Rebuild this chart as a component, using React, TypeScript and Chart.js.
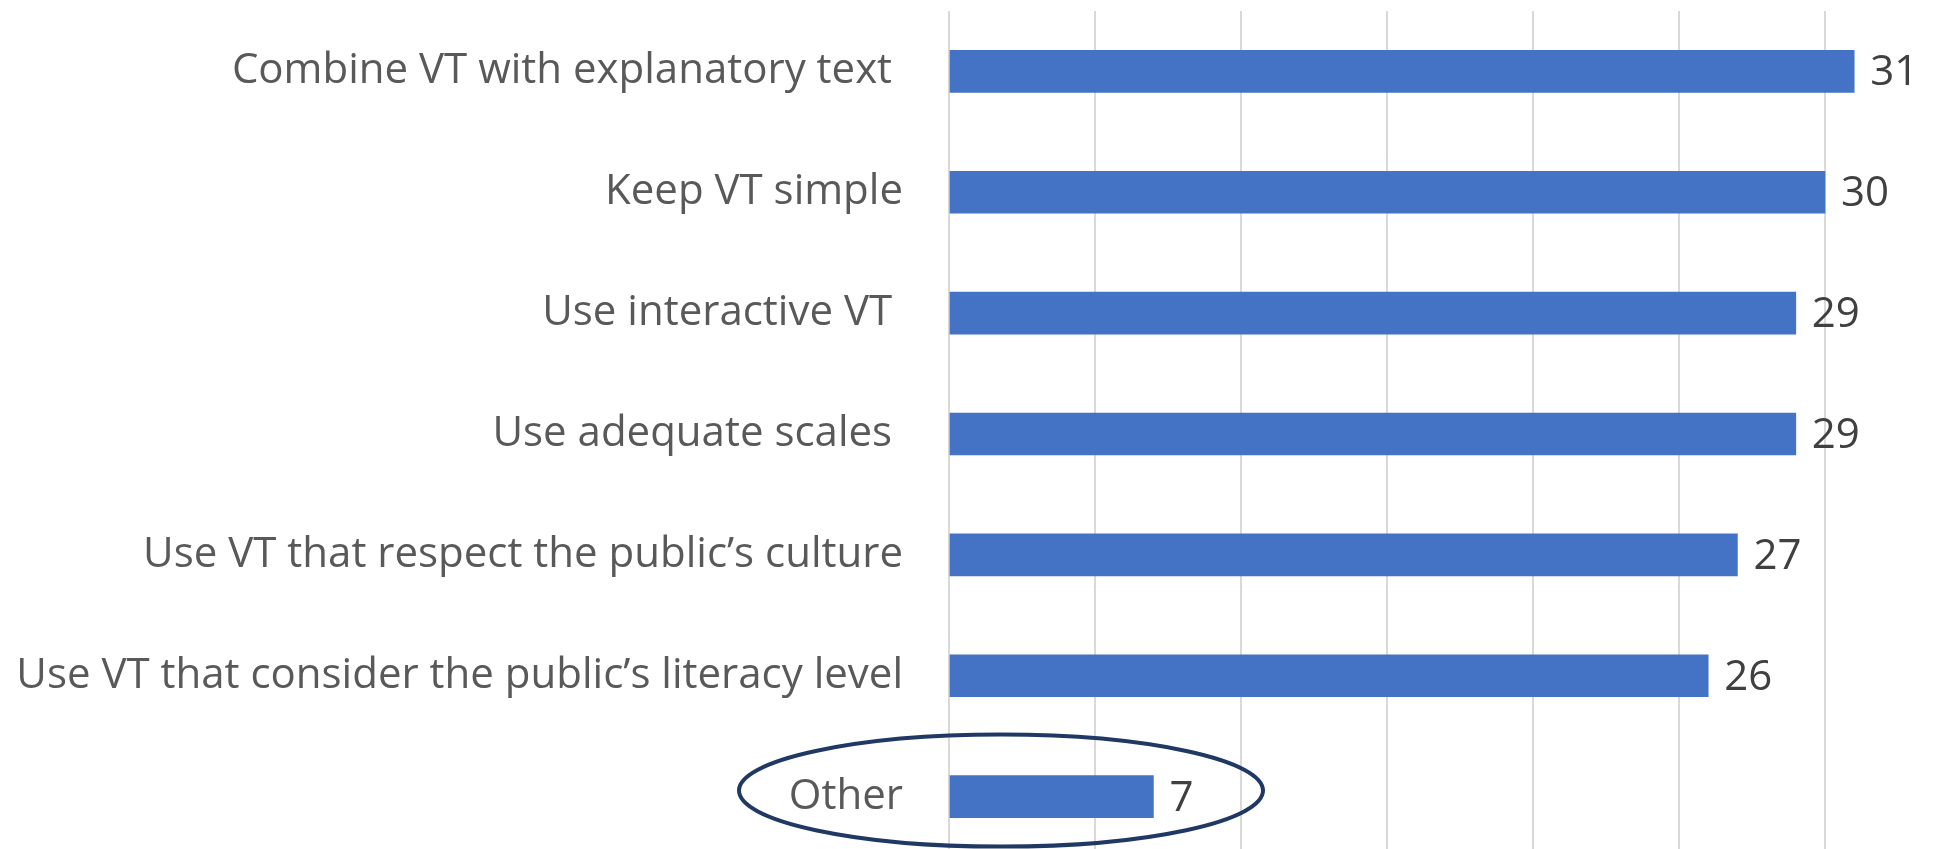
import React, { useEffect, useRef } from "react";
import { Chart, registerables } from "chart.js";

Chart.register(...registerables);

const categories: string[] = [
  "Combine VT with explanatory text ",
  "Keep VT simple",
  "Use interactive VT ",
  "Use adequate scales ",
  "Use VT that respect the public\u2019s culture",
  "Use VT that consider the public\u2019s literacy level",
  "Other",
];
const values: number[] = [31, 30, 29, 29, 27, 26, 7];
const highlightedCategory = "Other";
const axisMax = 35;
const axisStep = 5;

const FONT = "'Open Sans', 'Noto Sans', sans-serif";

const valueLabelPlugin = {
  id: "valueLabels",
  afterDatasetsDraw(chart: any) {
    const { ctx } = chart;
    const meta = chart.getDatasetMeta(0);
    ctx.save();
    ctx.font = `42px ${FONT}`;
    ctx.fillStyle = "#404040";
    ctx.textAlign = "left";
    ctx.textBaseline = "middle";
    meta.data.forEach((bar: any, i: number) => {
      ctx.fillText(String(values[i]), bar.x + 16, bar.y + 2);
    });
    ctx.restore();
  },
};

const ellipsePlugin = {
  id: "highlightEllipse",
  afterDraw(chart: any) {
    const { ctx } = chart;
    const idx = categories.indexOf(highlightedCategory);
    if (idx < 0) return;
    const y = chart.scales.y.getPixelForValue(idx) - 6;
    const x = chart.scales.x.getPixelForValue(0) + 52;
    ctx.save();
    ctx.strokeStyle = "#203864";
    ctx.lineWidth = 4;
    ctx.beginPath();
    ctx.ellipse(x, y, 262, 56, 0, 0, Math.PI * 2);
    ctx.stroke();
    ctx.restore();
  },
};

export default function App() {
  const ref = useRef<HTMLCanvasElement | null>(null);

  useEffect(() => {
    document.body.style.margin = "0";
    document.body.style.overflow = "hidden";
    const canvas = ref.current;
    if (!canvas) return;
    const chart = new Chart(canvas, {
      type: "bar",
      data: {
        labels: categories,
        datasets: [
          {
            data: values,
            backgroundColor: "#4472c4",
            borderWidth: 0,
            barThickness: 42,
          },
        ],
      },
      options: {
        indexAxis: "y",
        responsive: false,
        animation: false,
        devicePixelRatio: 1,
        layout: { padding: { top: 11, bottom: 13, right: 4, left: 0 } },
        plugins: {
          legend: { display: false },
          tooltip: { enabled: false },
          title: { display: false },
        },
        scales: {
          x: {
            min: 0,
            max: axisMax,
            ticks: { display: false, stepSize: axisStep },
            grid: { color: "#d9d9d9", lineWidth: 2, drawTicks: false },
            border: { display: false },
            afterFit(scale: any) {
              scale.height = 0;
              scale.paddingLeft = 0;
              scale.paddingRight = 0;
            },
          },
          y: {
            grid: { display: false, drawTicks: false },
            border: { display: false },
            ticks: {
              color: "#595959",
              padding: 46,
              font: { family: FONT, size: 42 },
            },
            afterFit(scale: any) {
              scale.width = 949;
              scale.paddingTop = 0;
              scale.paddingBottom = 0;
            },
          },
        },
      },
      plugins: [valueLabelPlugin, ellipsePlugin],
    });
    return () => chart.destroy();
  }, []);

  return (
    <div style={{ width: 1959, height: 849, overflow: "hidden", position: "relative", background: "#fff" }}>
      <canvas ref={ref} width={1975} height={870} style={{ display: "block", width: 1975, height: 870 }} />
    </div>
  );
}
